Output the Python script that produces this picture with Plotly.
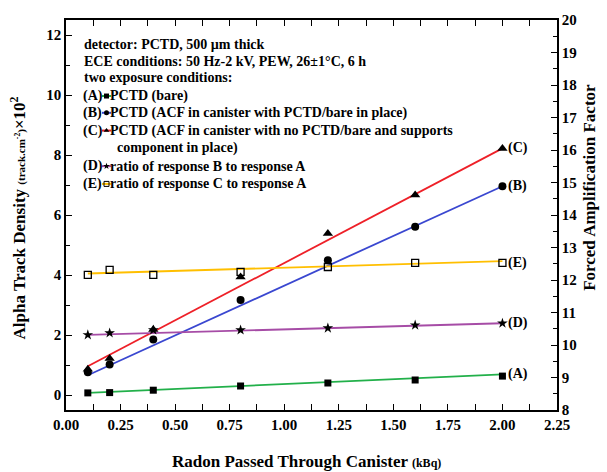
import plotly.graph_objects as go

# ---------------- data ----------------
radon = [0.1, 0.2, 0.4, 0.8, 1.2, 1.6, 2.0]
resp_A = [0.07, 0.08, 0.16, 0.30, 0.40, 0.50, 0.63]
resp_B = [0.76, 1.02, 1.85, 3.17, 4.49, 5.61, 6.96]
resp_C = [0.86, 1.22, 2.18, 3.93, 5.38, 6.67, 8.22]
ratio_D = [10.31, 10.37, 10.46, 10.46, 10.52, 10.61, 10.67]
ratio_E = [12.16, 12.31, 12.16, 12.25, 12.40, 12.53, 12.53]

fit_x = [0.1, 2.0]
fit_A = [0.07, 0.69]
fit_B = [0.66, 6.96]
fit_C = [0.96, 8.22]
fit_D = [10.31, 10.67]
fit_E = [12.20, 12.58]

x_ticks = [0.0, 0.25, 0.5, 0.75, 1.0, 1.25, 1.5, 1.75, 2.0, 2.25]
x_ticklabels = ["0.00", "0.25", "0.50", "0.75", "1.00", "1.25", "1.50", "1.75", "2.00", "2.25"]

legend_header = [
    "detector: PCTD, 500 µm thick",
    "ECE conditions: 50 Hz-2 kV, PEW, 26±1°C, 6 h",
    "two exposure conditions:",
]
legend_items = [
    ("(A)", "PCTD (bare)"),
    ("(B)", "PCTD (ACF in canister with PCTD/bare in place)"),
    ("(C)", "PCTD (ACF in canister with no PCTD/bare and supports"),
    ("(D)", "ratio of response B to response A"),
    ("(E)", "ratio of response C to response A"),
]
legend_cont = "component in place)"
end_labels = ["(A)", "(B)", "(C)", "(D)", "(E)"]

# ---------------- style ----------------
FONT = "Liberation Serif"
colors = ["#22b04a", "#3a47d0", "#ee2028", "#a64ca6", "#ffbf00"]
symbols = ["square", "circle", "triangle-up", "star", "square-open"]
msizes = [7, 8, 9, 8, 7]

W, H = 607, 472
L, R, T, B = 66, 50, 15, 62
PW, PH = W - L - R, H - T - B


def px(xp):
    return (xp - L) / PW


def py(yp):
    return (H - B - yp) / PH


fig = go.Figure()

series = [(resp_A, fit_A, "y"), (resp_B, fit_B, "y"), (resp_C, fit_C, "y"),
          (ratio_D, fit_D, "y2"), (ratio_E, fit_E, "y2")]

for i, (vals, fit, ax) in enumerate(series):
    fig.add_trace(go.Scatter(x=fit_x, y=fit, mode="lines", yaxis=ax,
                             line=dict(color=colors[i], width=1.8), showlegend=False))
for i, (vals, fit, ax) in enumerate(series):
    fig.add_trace(go.Scatter(x=radon, y=vals, mode="markers", yaxis=ax,
                             marker=dict(symbol=symbols[i], size=msizes[i], color="black",
                                         line=dict(color="black", width=1.3 if i == 4 else 0)),
                             showlegend=False))
    fig.add_annotation(x=radon[-1], y=vals[-1] if i != 0 else fit[-1], yref=ax, xref="x",
                       text="<b>%s</b>" % end_labels[i], showarrow=False,
                       xanchor="left", xshift=4, font=dict(family=FONT, size=14, color="black"))

# ---------------- legend block ----------------
FS = 14
row_y = [40, 57, 73, 92, 109, 127, 145, 163, 181]
for k, t in enumerate(legend_header):
    fig.add_annotation(xref="paper", yref="paper", x=px(82), y=py(row_y[k]), text="<b>%s</b>" % t,
                       showarrow=False, xanchor="left", yanchor="middle",
                       font=dict(family=FONT, size=FS, color="black"))
item_rows = [row_y[3], row_y[4], row_y[5], row_y[7], row_y[8]]
for k, (lab, t) in enumerate(legend_items):
    yy = py(item_rows[k])
    fig.add_annotation(xref="paper", yref="paper", x=px(81), y=yy, text="<b>%s</b>" % lab,
                       showarrow=False, xanchor="left", yanchor="middle",
                       font=dict(family=FONT, size=FS, color="black"))
    fig.add_annotation(xref="paper", yref="paper", x=px(108), y=yy, text="<b>%s</b>" % t,
                       showarrow=False, xanchor="left", yanchor="middle",
                       font=dict(family=FONT, size=FS, color="black"))
    fig.add_trace(go.Scatter(x=[px(102), px(111)], y=[yy, yy], mode="lines", xaxis="x3", yaxis="y3",
                             line=dict(color=colors[k], width=2), showlegend=False, hoverinfo="skip"))
    fig.add_trace(go.Scatter(x=[px(106.5)], y=[yy], mode="markers", xaxis="x3", yaxis="y3",
                             marker=dict(symbol=symbols[k], size=5, color="black",
                                         line=dict(color="black", width=1 if k == 4 else 0)),
                             showlegend=False, hoverinfo="skip"))
fig.add_annotation(xref="paper", yref="paper", x=px(115), y=py(row_y[6]), text="<b>%s</b>" % legend_cont,
                   showarrow=False, xanchor="left", yanchor="middle",
                   font=dict(family=FONT, size=FS, color="black"))

# ---------------- axis titles ----------------
fig.add_annotation(xref="paper", yref="paper", x=px(306), y=py(462),
                   text="<b>Radon Passed Through Canister <span style='font-size:12px'>(kBq)</span></b>",
                   showarrow=False, xanchor="center", yanchor="middle",
                   font=dict(family=FONT, size=17, color="black"))
fig.add_annotation(xref="paper", yref="paper", x=px(18), y=py(216), textangle=-90,
                   text="<b>Alpha Track Density <span style='font-size:11px'>(track.cm<sup>-2</sup>)</span>×10<sup>2</sup></b>",
                   showarrow=False, xanchor="center", yanchor="middle",
                   font=dict(family=FONT, size=17, color="black"))
fig.add_annotation(xref="paper", yref="paper", x=px(590), y=py(185), textangle=-90,
                   text="<b>Forced Amplification Factor</b>",
                   showarrow=False, xanchor="center", yanchor="middle",
                   font=dict(family=FONT, size=17, color="black"))

tickfont = dict(family=FONT, size=15, color="black", weight="bold")
fig.update_layout(
    width=W, height=H,
    margin=dict(l=L, r=R, t=T, b=B),
    paper_bgcolor="white", plot_bgcolor="white",
    showlegend=False,
    xaxis=dict(range=[0, 2.25], tickvals=x_ticks, ticktext=x_ticklabels,
               ticks="inside", ticklen=6, tickwidth=1.2, tickcolor="black",
               minor=dict(dtick=0.125, ticks="inside", ticklen=6, tickwidth=1.2, tickcolor="black"),
               showline=True, linecolor="black", linewidth=1.5, mirror="allticks",
               showgrid=False, zeroline=False, tickfont=tickfont),
    yaxis=dict(range=[-0.5, 12.5], dtick=2, tick0=0,
               ticks="inside", ticklen=6, tickwidth=1.2, tickcolor="black",
               minor=dict(dtick=1, ticks="inside", ticklen=4, tickwidth=1.2, tickcolor="black"),
               showline=True, linecolor="black", linewidth=1.5,
               showgrid=False, zeroline=False, tickfont=tickfont),
    yaxis2=dict(range=[8, 20], dtick=1, tick0=8, overlaying="y", side="right",
                ticks="inside", ticklen=6, tickwidth=1.2, tickcolor="black",
                minor=dict(dtick=0.5, ticks="inside", ticklen=4, tickwidth=1.2, tickcolor="black"),
                showline=True, linecolor="black", linewidth=1.5,
                showgrid=False, zeroline=False, tickfont=tickfont),
    xaxis3=dict(range=[0, 1], overlaying="x", visible=False),
    yaxis3=dict(range=[0, 1], overlaying="y", visible=False),
)

fig.write_html("out.html", config={"displayModeBar": False},
               post_script="document.body.style.margin='0';document.body.style.overflow='hidden';")
